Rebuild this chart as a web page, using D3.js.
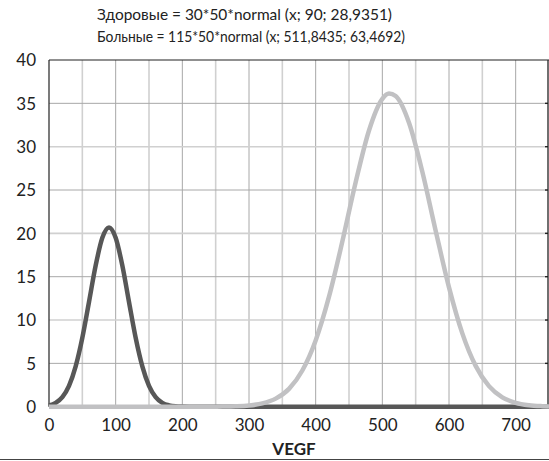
<!DOCTYPE html>
<html>
<head>
<meta charset="utf-8">
<script src="https://cdn.jsdelivr.net/npm/d3@7"></script>
<style>
  html, body { margin: 0; padding: 0; background: #fff; }
  svg { display: block; }
</style>
</head>
<body>
<svg id="chart" width="549" height="461"></svg>
<script>
// ---- data ----
const titleLines = [
  "Здоровые = 30*50*normal (x; 90; 28,9351)",
  "Больные = 115*50*normal (x; 511,8435; 63,4692)"
];
const xLabel = "VEGF";
const xTicks = [0, 100, 200, 300, 400, 500, 600, 700];
const yTicks = [0, 5, 10, 15, 20, 25, 30, 35, 40];
const xGrid = [50, 100, 150, 200, 250, 300, 350, 400, 450, 500, 550, 600, 650, 700];
const yGrid = [5, 10, 15, 20, 25, 30, 35];

// healthy (dark curve)
const healthyX = [0, 10, 20, 30, 40, 50, 60, 70, 80, 90, 100, 110, 120, 130, 140, 150, 160, 170, 180, 190, 200, 220, 300, 400, 500, 600, 700, 750];
const healthyY = [0.16, 0.45, 1.11, 2.41, 4.65, 7.95, 12.08, 16.29, 19.48, 20.68, 19.48, 16.29, 12.08, 7.95, 4.65, 2.41, 1.11, 0.45, 0.16, 0.05, 0.02, 0, 0, 0, 0, 0, 0, 0];

// sick (light curve)
const sickX = [0, 100, 200, 240, 260, 280, 300, 320, 340, 360, 380, 400, 420, 440, 460, 480, 500, 510, 520, 540, 560, 580, 600, 620, 640, 660, 680, 700, 720, 740, 750];
const sickY = [0, 0, 0, 0.004, 0.014, 0.046, 0.14, 0.38, 0.93, 2.06, 4.18, 7.65, 12.69, 19.05, 25.89, 31.87, 35.52, 36.13, 35.84, 32.75, 27.10, 20.30, 13.77, 8.46, 4.71, 2.37, 1.08, 0.45, 0.17, 0.06, 0.03];

(function () {
// ---- layout ----
const svg = d3.select("#chart");
const pl = 49, pr = 549, pt = 60, pb = 406.7;
const x = d3.scaleLinear().domain([0, 750]).range([pl, pr]);
const y = d3.scaleLinear().domain([0, 40]).range([pb, pt]);
const font = "Lato, 'Open Sans', sans-serif";

// grid
svg.append("g").selectAll("line").data(xGrid).join("line")
  .attr("x1", d => x(d)).attr("x2", d => x(d))
  .attr("y1", pt).attr("y2", pb)
  .attr("stroke", d => d % 100 === 0 ? "#a8a8a8" : "#d0d0d0")
  .attr("stroke-width", d => d % 100 === 0 ? 1 : 1.6);
svg.append("g").selectAll("line").data(yGrid).join("line")
  .attr("x1", pl).attr("x2", pr - 1)
  .attr("y1", d => y(d)).attr("y2", d => y(d))
  .attr("stroke", d => d % 10 === 0 ? "#d0d0d0" : "#a8a8a8")
  .attr("stroke-width", d => d % 10 === 0 ? 1.6 : 1);

// frame
svg.append("line").attr("x1", pl).attr("x2", pr).attr("y1", pt).attr("y2", pt)
  .attr("stroke", "#222").attr("stroke-width", 1.2);
svg.append("line").attr("x1", pl).attr("x2", pl).attr("y1", pt).attr("y2", pb)
  .attr("stroke", "#222").attr("stroke-width", 1.2);
svg.append("line").attr("x1", pr - 1).attr("x2", pr - 1).attr("y1", pt).attr("y2", pb)
  .attr("stroke", "#333").attr("stroke-width", 1.4);
// right inner ticks
svg.append("g").selectAll("line").data(yGrid).join("line")
  .attr("x1", pr - 4).attr("x2", pr - 1)
  .attr("y1", d => y(d)).attr("y2", d => y(d))
  .attr("stroke", "#222").attr("stroke-width", 1.4);

// curves
const line = d3.line().x(d => x(d[0])).y(d => y(d[1])).curve(d3.curveMonotoneX);
svg.append("path")
  .datum(healthyX.map((v, i) => [v, healthyY[i]]))
  .attr("d", line).attr("fill", "none")
  .attr("stroke", "#575757").attr("stroke-width", 4.5)
  .attr("stroke-linejoin", "round");
svg.append("path")
  .datum(sickX.map((v, i) => [v, sickY[i]]))
  .attr("d", line).attr("fill", "none")
  .attr("stroke", "#c1c1c3").attr("stroke-width", 4.5)
  .attr("stroke-linejoin", "round");

// axes
const xAxis = d3.axisBottom(x).tickValues(xTicks).tickSize(0).tickPadding(0);
const gx = svg.append("g").attr("transform", `translate(0,${pb})`).call(xAxis);
gx.select(".domain").remove();
gx.selectAll("text").attr("font-family", font).attr("font-size", 17)
  .attr("fill", "#222").attr("dy", null).attr("y", 24.5);

const yAxis = d3.axisLeft(y).tickValues(yTicks).tickSize(0).tickPadding(0);
const gy = svg.append("g").attr("transform", `translate(${pl},0)`).call(yAxis);
gy.select(".domain").remove();
gy.selectAll("text").attr("font-family", font).attr("font-size", 17)
  .attr("fill", "#222").attr("x", -13).attr("dy", "0.35em");

// x label
svg.append("text").attr("x", 294).attr("y", 455)
  .attr("text-anchor", "middle").attr("font-family", font)
  .attr("font-weight", "bold").attr("font-size", 17).attr("fill", "#222")
  .text(xLabel);

// title
const titleWidths = [295, 308];
svg.append("g").selectAll("text").data(titleLines).join("text")
  .attr("x", 97).attr("y", (d, i) => 20 + i * 22)
  .attr("font-family", font).attr("font-size", 16).attr("fill", "#222")
  .attr("textLength", (d, i) => titleWidths[i]).attr("lengthAdjust", "spacingAndGlyphs")
  .text(d => d);

// bottom separator
svg.append("line").attr("x1", 0).attr("x2", 549).attr("y1", 459.5).attr("y2", 459.5)
  .attr("stroke", "#444").attr("stroke-width", 1.2);
})();
</script>
</body>
</html>
